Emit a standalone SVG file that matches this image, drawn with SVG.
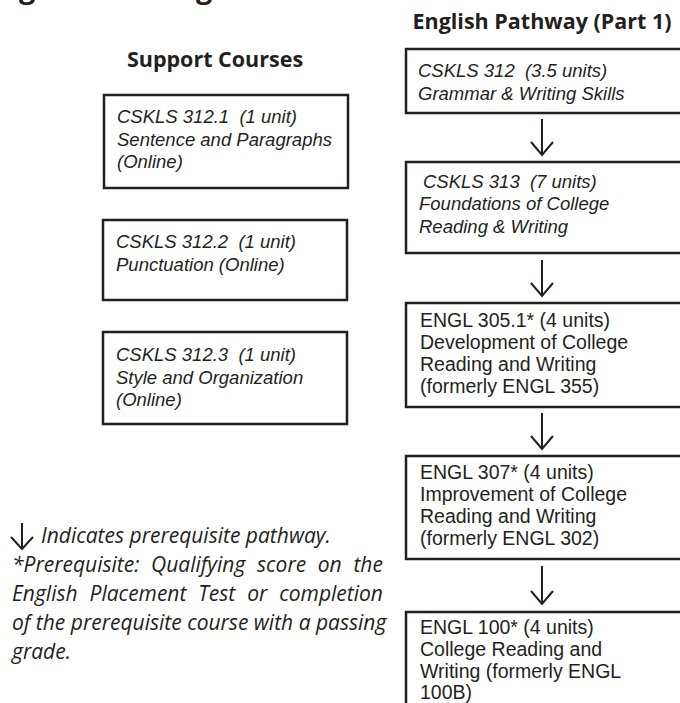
<svg xmlns="http://www.w3.org/2000/svg" width="680" height="703" viewBox="0 0 680 703">
<style>
  .box { fill: #ffffff; stroke: #231f20; stroke-width: 2.5; }
  .t { font-family: "Liberation Sans", Arial, sans-serif; font-size: 19.5px; fill: #231f20; }
  .i { font-style: italic; font-size: 18.5px; }
  .h { font-family: "Open Sans", "Liberation Sans", sans-serif; font-weight: bold; font-size: 21.5px; fill: #231f20; }
  .arrow { fill: none; stroke: #231f20; stroke-width: 2; }
  .leg { font-family: "Open Sans", "Liberation Sans", sans-serif; font-style: italic; font-size: 21px; fill: #231f20; }
</style>
<rect width="680" height="703" fill="#ffffff"/>
<text class="h" x="-81" y="-2" style="font-size:29px">Reading and Writing</text>
<text class="h" x="215" y="67" text-anchor="middle">Support Courses</text>
<text class="h" x="542" y="29" text-anchor="middle">English Pathway (Part 1)</text>

<g id="s1">
  <rect class="box" x="104" y="95" width="244" height="93"/>
  <text class="t i"><tspan x="117" y="123">CSKLS 312.1 &#160;(1 unit)</tspan><tspan x="117" y="146">Sentence and Paragraphs</tspan><tspan x="117" y="168">(Online)</tspan></text>
</g>
<g id="s2">
  <rect class="box" x="103" y="220" width="244" height="80"/>
  <text class="t i"><tspan x="116" y="248">CSKLS 312.2 &#160;(1 unit)</tspan><tspan x="116" y="271">Punctuation (Online)</tspan></text>
</g>
<g id="s3">
  <rect class="box" x="103" y="332" width="244" height="92"/>
  <text class="t i"><tspan x="116" y="361">CSKLS 312.3 &#160;(1 unit)</tspan><tspan x="116" y="384">Style and Organization</tspan><tspan x="116" y="406">(Online)</tspan></text>
</g>

<g id="p1">
  <rect class="box" x="406" y="49" width="300" height="64"/>
  <text class="t i"><tspan x="418" y="77">CSKLS 312 &#160;(3.5 units)</tspan><tspan x="418" y="100">Grammar &amp; Writing Skills</tspan></text>
</g>
<g id="p2">
  <rect class="box" x="406" y="162" width="300" height="91"/>
  <text class="t i"><tspan x="423" y="188">CSKLS 313 &#160;(7 units)</tspan><tspan x="419" y="210">Foundations of College</tspan><tspan x="419" y="233">Reading &amp; Writing</tspan></text>
</g>
<g id="p3">
  <rect class="box" x="406" y="303" width="300" height="104"/>
  <text class="t"><tspan x="420" y="327">ENGL 305.1* (4 units)</tspan><tspan x="420" y="349">Development of College</tspan><tspan x="420" y="371">Reading and Writing</tspan><tspan x="420" y="393">(formerly ENGL 355)</tspan></text>
</g>
<g id="p4">
  <rect class="box" x="406" y="456" width="300" height="103"/>
  <text class="t"><tspan x="420" y="479">ENGL 307* (4 units)</tspan><tspan x="420" y="501">Improvement of College</tspan><tspan x="420" y="523">Reading and Writing</tspan><tspan x="420" y="545">(formerly ENGL 302)</tspan></text>
</g>
<g id="p5">
  <rect class="box" x="406" y="612" width="300" height="110"/>
  <text class="t"><tspan x="420" y="634">ENGL 100* (4 units)</tspan><tspan x="420" y="656">College Reading and</tspan><tspan x="420" y="678">Writing (formerly ENGL</tspan><tspan x="420" y="699">100B)</tspan></text>
</g>

<g id="connectors">
  <path class="arrow" d="M542 119 V155 M531 142 L542 155 L553 142"/>
  <path class="arrow" d="M542 260 V296 M531 283 L542 296 L553 283"/>
  <path class="arrow" d="M542 413 V449 M531 436 L542 449 L553 436"/>
  <path class="arrow" d="M542 566 V604 M531 591 L542 604 L553 591"/>
</g>

<g id="legend">
  <path class="arrow" d="M22 523 V549 M11 537 L22 549 L33 537"/>
  <text class="leg" x="41" y="543">Indicates prerequisite pathway.</text>
  <text class="leg" x="12" y="572" word-spacing="6.2">*Prerequisite: Qualifying score on the</text>
  <text class="leg" x="12" y="601" word-spacing="6.5">English Placement Test or completion</text>
  <text class="leg" x="12" y="630">of the prerequisite course with a passing</text>
  <text class="leg" x="12" y="659">grade.</text>
</g>
</svg>
